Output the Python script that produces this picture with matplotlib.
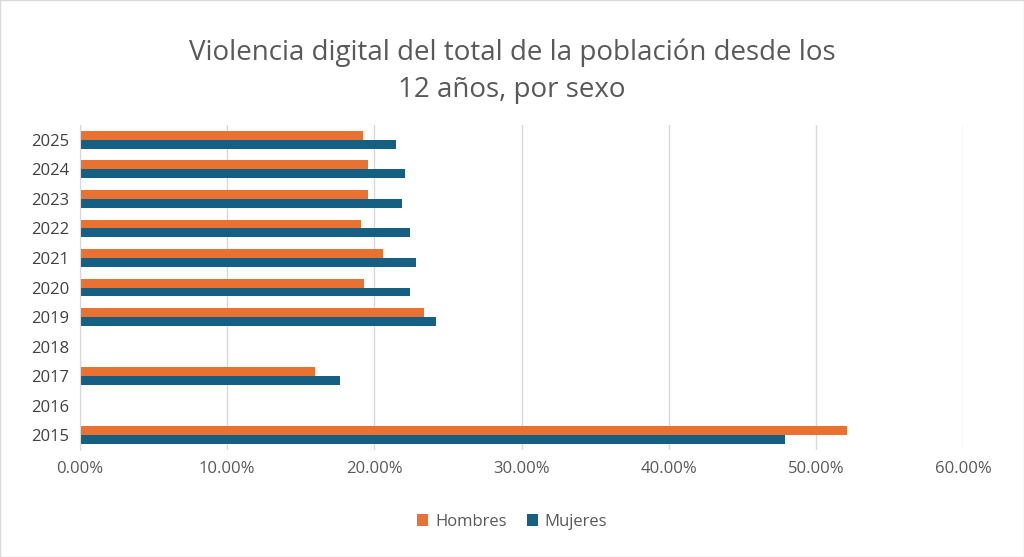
import matplotlib.pyplot as plt
import numpy as np

plt.rcParams['font.family'] = ['Open Sans', 'DejaVu Sans']

years = ["2015", "2016", "2017", "2018", "2019", "2020", "2021", "2022", "2023", "2024", "2025"]
hombres = [52.1, np.nan, 16.0, np.nan, 23.4, 19.3, 20.6, 19.1, 19.6, 19.6, 19.2]
mujeres = [47.9, np.nan, 17.7, np.nan, 24.2, 22.4, 22.8, 22.4, 21.9, 22.1, 21.5]

fig = plt.figure(figsize=(10.24, 5.57), dpi=100)
ax = fig.add_axes([80/1024, 1 - 450/557, 883/1024, 325/557])

y = np.arange(len(years))
h = 0.3
ax.barh(y - h/2, mujeres, height=h, color="#156082", label="Mujeres")
ax.barh(y + h/2, hombres, height=h, color="#E97132", label="Hombres")

ax.set_xlim(0, 60)
ax.set_ylim(-0.5, len(years) - 0.5)
ax.set_xticks(range(0, 61, 10))
ax.set_xticklabels([f"{v:.2f}%" for v in range(0, 61, 10)], color="#595959", fontsize=12)
ax.set_yticks(y)
ax.set_yticklabels(years, color="#404040", fontsize=12)
ax.tick_params(length=0, pad=8)
ax.grid(axis="x", color="#d9d9d9", linewidth=1)
ax.set_axisbelow(True)
for s in ["top", "right", "bottom"]:
    ax.spines[s].set_visible(False)
ax.spines["left"].set_color("#d9d9d9")

fig.text(0.5, 0.93, "Violencia digital del total de la población desde los\n12 años, por sexo",
         ha="center", va="top", fontsize=20, color="#595959", linespacing=1.4)

handles, labels = ax.get_legend_handles_labels()
fig.legend(handles[::-1], labels[::-1], loc="center", bbox_to_anchor=(0.5, 1 - 522/557),
           ncol=2, frameon=False, fontsize=12, handlelength=0.7, handleheight=0.7,
           columnspacing=1.2, handletextpad=0.4, labelcolor="#595959")

fig.patches.append(plt.Rectangle((0, 0), 1, 1, transform=fig.transFigure,
                                 fill=False, edgecolor="#d9d9d9", linewidth=1))
fig.savefig("out.png", dpi=100)
